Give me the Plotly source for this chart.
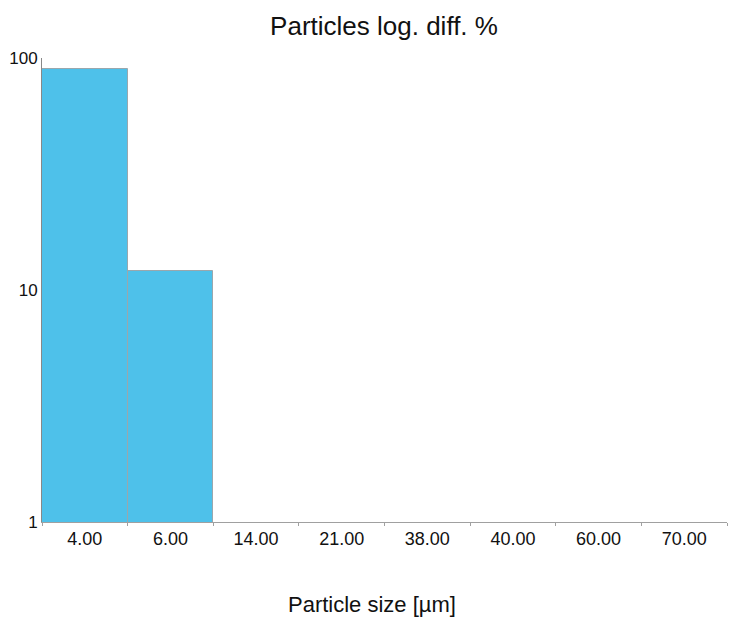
import plotly.graph_objects as go

sizes = ["4.00", "6.00", "14.00", "21.00", "38.00", "40.00", "60.00", "70.00"]
percent = [89.5, 12.1, 0, 0, 0, 0, 0, 0]

W, H = 722, 610
L, R, T, B = 34, 3, 50, 96
ph = H - T - B

fig = go.Figure(go.Bar(
    x=sizes, y=percent,
    marker=dict(color="#4ec1ea", line=dict(color="#9aa7ad", width=1)),
))

fig.update_layout(
    width=W, height=H,
    margin=dict(l=L, r=R, t=T, b=B),
    paper_bgcolor="white", plot_bgcolor="white",
    bargap=0,
    showlegend=False,
    font=dict(family="Liberation Sans, Arial", color="#111111"),
    title=dict(text="Particles log. diff. %", x=(384 - 8) / W, xanchor="center", y=1 - 18 / H, yanchor="middle",
               font=dict(size=26, color="#111111")),
    annotations=[dict(text="Particle size [µm]", xref="paper", yref="paper",
                      x=(372 - 8 - L) / (W - L - R), y=-(604 - 8 - 514) / ph, xanchor="center", yanchor="middle",
                      showarrow=False, font=dict(size=22, color="#111111"))],
)
fig.update_xaxes(
    type="category", automargin=False,
    showline=True, linecolor="#a0a0a0", linewidth=1,
    ticks="outside", tickson="boundaries", ticklen=3, tickcolor="#a0a0a0",
    tickfont=dict(size=18),
    showgrid=False,
)
fig.update_yaxes(
    type="log", range=[0, 2.0], automargin=False,
    tickvals=[1, 10, 100], ticktext=["1", "10", "100"],
    showline=True, linecolor="#888888", linewidth=1,
    ticks="", tickfont=dict(size=17), ticklabelstandoff=0,
    showgrid=False, zeroline=False,
)
fig.write_html("out.html")
